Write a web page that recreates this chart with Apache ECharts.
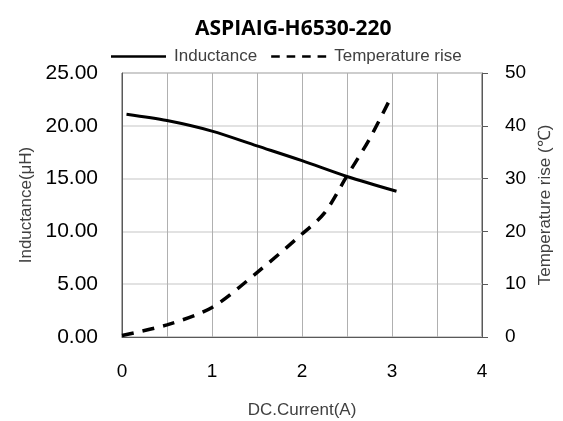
<!DOCTYPE html>
<html><head><meta charset="utf-8">
<script src="https://cdn.jsdelivr.net/npm/echarts@6/dist/echarts.min.js"></script>
<style>html,body{margin:0;padding:0;background:#fff}#c{width:563px;height:421px}</style>
</head><body><div id="c"></div>
<script>
const titleText = 'ASPIAIG-H6530-220';
const indCurrent = [0.05, 0.5, 1.0, 1.5, 2.0, 2.5, 3.05];
const inductance = [21.1, 20.5, 19.5, 18.1, 16.7, 15.2, 13.8];
const tempCurrent = [0, 0.5, 1.0, 1.5, 2.0, 2.25, 2.5, 2.75, 3.0];
const tempRise = [0.3, 2.3, 5.6, 12.2, 19.5, 23.5, 30.5, 37.5, 45.8];

const chart = echarts.init(document.getElementById('c'));
const font = 'Liberation Sans, Arial, sans-serif';
chart.setOption({
  animation: false,
  title: { text: titleText, left: 190, top: 14,
    textStyle: { fontFamily: 'Open Sans, sans-serif', fontWeight: 'bold', fontSize: 21, color: '#000' } },
  legend: { top: 43, left: 106, itemWidth: 55, itemHeight: 2.5, itemGap: 14,
    textStyle: { fontFamily: font, fontSize: 17, color: '#404040', padding: [0, 0, 0, 3] },
    data: [
      { name: 'Inductance', icon: 'rect' },
      { name: 'Temperature rise', icon: 'path://M0,0h25v7h-25zM45,0h25v7h-25zM90,0h25v7h-25zM135,0h25v7h-25z' }
    ] },
  grid: { left: 122, right: 81, top: 73, bottom: 84, show: true, borderColor: '#595959', borderWidth: 1,
    outerBoundsMode: 'none' },
  xAxis: { type: 'value', min: 0, max: 4, interval: 1,
    name: 'DC.Current(A)', nameLocation: 'middle', nameGap: 65,
    nameTextStyle: { fontFamily: font, fontSize: 17, color: '#404040' },
    axisLine: { lineStyle: { color: '#595959' } },
    axisTick: { show: false },
    axisLabel: { fontFamily: font, fontSize: 19, color: '#000', margin: 25 },
    splitLine: { lineStyle: { color: '#b0b0b0' } },
    minorTick: { show: false, splitNumber: 2 },
    minorSplitLine: { show: true, lineStyle: { color: '#b0b0b0' } } },
  yAxis: [
    { type: 'value', min: 0, max: 25, interval: 5,
      name: 'Inductance(μH)', nameLocation: 'middle', nameGap: 80, nameRotate: 90,
      nameTextStyle: { fontFamily: font, fontSize: 17, color: '#404040' },
      axisLine: { show: true, lineStyle: { color: '#595959' } },
      axisTick: { show: false },
      axisLabel: { fontFamily: font, fontSize: 21, color: '#000', margin: 24, formatter: v => v.toFixed(2) },
      splitLine: { lineStyle: { color: '#d9d9d9', width: 1.5 } } },
    { type: 'value', min: 0, max: 50, interval: 10, position: 'right',
      name: 'Temperature rise (℃)', nameLocation: 'middle', nameGap: 45, nameRotate: 90,
      nameTextStyle: { fontFamily: font, fontSize: 17, color: '#404040' },
      axisLine: { show: true, lineStyle: { color: '#595959' } },
      axisTick: { show: true, length: 6, lineStyle: { color: '#595959' } },
      axisLabel: { fontFamily: font, fontSize: 19, color: '#000', margin: 23 },
      splitLine: { show: false } }
  ],
  series: [
    { name: 'Inductance', type: 'line', yAxisIndex: 0, smooth: 0.3, symbol: 'none',
      itemStyle: { color: '#000' },
      lineStyle: { color: '#000', width: 3 },
      data: indCurrent.map((x, i) => [x, inductance[i]]) },
    { name: 'Temperature rise', type: 'line', yAxisIndex: 1, smooth: 0.3, symbol: 'none',
      itemStyle: { color: '#000' },
      lineStyle: { color: '#000', width: 3.5, type: [12, 9] },
      data: tempCurrent.map((x, i) => [x, tempRise[i]]) }
  ]
});
</script></body></html>
